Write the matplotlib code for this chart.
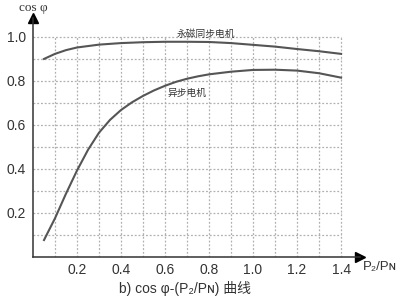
import matplotlib
matplotlib.use("Agg")
import matplotlib.pyplot as plt
import numpy as np

# Data
pm_x = [0.05, 0.1, 0.15, 0.2, 0.3, 0.4, 0.5, 0.6, 0.7, 0.8, 0.9, 1.0, 1.1, 1.2, 1.3, 1.4]
pm_y = [0.900, 0.923, 0.940, 0.952, 0.965, 0.972, 0.976, 0.978, 0.978, 0.977, 0.972,
        0.964, 0.956, 0.945, 0.935, 0.923]
im_x = [0.05, 0.1, 0.15, 0.2, 0.25, 0.3, 0.35, 0.4, 0.45, 0.5, 0.55, 0.6, 0.65, 0.7,
        0.75, 0.8, 0.9, 1.0, 1.1, 1.2, 1.3, 1.4]
im_y = [0.077, 0.176, 0.288, 0.393, 0.487, 0.565, 0.623, 0.668, 0.703, 0.732, 0.757,
        0.778, 0.796, 0.810, 0.821, 0.830, 0.842, 0.850, 0.851, 0.847, 0.835, 0.815]
x_ticks = [0.2, 0.4, 0.6, 0.8, 1.0, 1.2, 1.4]
x_tick_labels = ["0.2", "0.4", "0.6", "0.8", "1.0", "1.2", "1.4"]
y_ticks = [0.2, 0.4, 0.6, 0.8, 1.0]
y_tick_labels = ["0.2", "0.4", "0.6", "0.8", "1.0"]
pm_label = "永磁同步电机"
im_label = "异步电机"
y_label = "cos φ"
x_label = "P₂/Pɴ"
title = "b) cos φ-(P₂/Pɴ) 曲线"

sans = ["Liberation Sans", "Noto Sans CJK SC", "DejaVu Sans"]
cjk = ["Noto Sans CJK SC", "DejaVu Sans"]
serif = ["Liberation Serif", "DejaVu Serif"]

fig = plt.figure(figsize=(4.0, 2.99), dpi=100)
fig.patch.set_facecolor("white")
ax = fig.add_axes([33 / 400, 1 - 257 / 299, (360 - 33) / 400, (257 - 18) / 299])
ax.set_xlim(0, 1.486)
ax.set_ylim(0, 1.086)

grid_c = "#b0b0b0"
gx = np.arange(1, 15) / 10
gy = np.arange(1, 11) / 10
ax.vlines(gx, 0, 1.0, colors=grid_c, linestyles=(0, (1.5, 1.5)), linewidth=0.9)
ax.hlines(gy, 0, 1.4, colors=grid_c, linestyles=(0, (1.5, 1.5)), linewidth=0.9)

line_c = "#555555"
ax.plot(pm_x, pm_y, color=line_c, lw=1.5)
ax.plot(im_x, im_y, color=line_c, lw=1.5)

for s in ["top", "right"]:
    ax.spines[s].set_visible(False)
for s in ["left", "bottom"]:
    ax.spines[s].set_color("#333333")
    ax.spines[s].set_linewidth(1.1)

ax.plot([1.486], [0], marker=">", color="black", ms=7, clip_on=False)
ax.plot([0], [1.086], marker="^", color="black", ms=7, clip_on=False)

ax.set_xticks(x_ticks)
ax.set_xticklabels(x_tick_labels, family=sans, fontsize=10, color="#333333")
ax.set_yticks(y_ticks)
ax.set_yticklabels(y_tick_labels, family=sans, fontsize=10, color="#333333")
ax.tick_params(length=0, pad=4)
ax.tick_params(axis="y", pad=5)

ax.text(0.655, 1.015, pm_label, family=cjk, fontsize=7, color="#333333", va="center")
ax.text(0.610, 0.745, im_label, family=cjk, fontsize=7, color="#333333", va="center")

fig.text(33 / 400, 1 - 8 / 299, y_label, family=serif, fontsize=9.5, color="#333333",
         ha="center", va="center")
fig.text(380 / 400, 1 - 267 / 299, x_label, family=sans, fontsize=9.5, color="#333333",
         ha="center", va="center")
fig.text(185 / 400, 1 - 289 / 299, title, family=sans, fontsize=10, color="#333333",
         ha="center", va="center")

fig.savefig("out.png", dpi=100, facecolor="white")
